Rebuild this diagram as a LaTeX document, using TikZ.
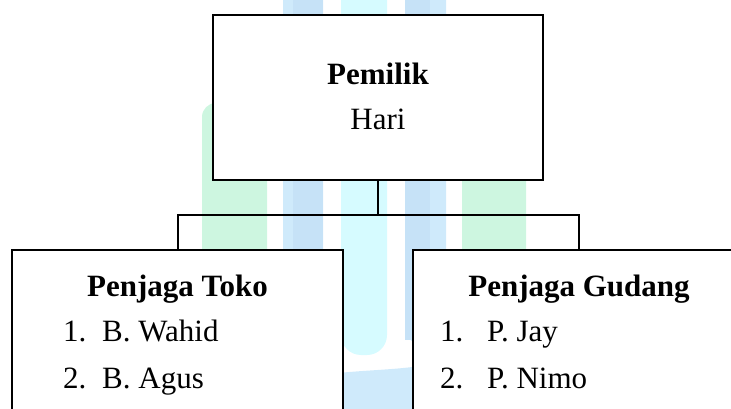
\documentclass[tikz,border=0pt]{standalone}
\usepackage{fontspec}
\setmainfont{Liberation Serif}
\definecolor{wmg}{HTML}{CDF6E0}
\definecolor{wmb}{HTML}{CFEAFB}
\definecolor{wmbd}{HTML}{C6E2F7}
\definecolor{wmc}{HTML}{D6FBFF}
\begin{document}
\begin{tikzpicture}[x=1pt,y=-1pt,
  box/.style={draw=black,line width=2pt,fill=white,rectangle,inner sep=0pt},
  conn/.style={draw=black,line width=2pt},
  ttl/.style={font=\fontsize{31}{37}\selectfont\bfseries,anchor=base,inner sep=0pt},
  txt/.style={font=\fontsize{31}{37}\selectfont,anchor=base,inner sep=0pt},
  itm/.style={font=\fontsize{31}{37}\selectfont,anchor=base west,inner sep=0pt},
  wmgreen/.style={fill=wmg,draw=none},
  wmblue/.style={fill=wmb,draw=none},
  wmcyan/.style={fill=wmc,draw=none}]
\useasboundingbox (0,0) rectangle (731,409);
\clip (0,0) rectangle (731,409);
% background watermark stripes
\fill[wmgreen,rounded corners=14pt] (202,103) rectangle (267,420);
\fill[wmgreen,rounded corners=14pt] (462,103) rectangle (526,420);
\fill[wmblue,rounded corners=18pt] (283,-20) rectangle (323,400);
\fill[wmbd] (293,0) rectangle (323,390);
\fill[wmblue,rounded corners=18pt] (405,-20) rectangle (446,345);
\fill[wmbd] (405,0) rectangle (430,340);
\fill[wmcyan,rounded corners=20pt] (341,-20) rectangle (387,355);
\fill[wmb] (300,378) .. controls (360,368) and (400,372) .. (440,362) -- (440,420) -- (300,420) -- cycle;
% boxes
\node[box,minimum width=330pt,minimum height=165pt] (top) at (378,97.5) {};
\node[box,minimum width=331pt,minimum height=180pt] (left) at (177.5,340) {};
\node[box,minimum width=331pt,minimum height=180pt] (right) at (578.5,340) {};
% connectors
\coordinate (bus) at (378,215);
\draw[conn] (top.south) -- (bus);
\draw[conn] (bus) -| (left.north);
\draw[conn] (bus) -| (right.north);
% texts
\node[ttl] (t1) at (378,85) {Pemilik};
\node[txt] (t2) at (378,130) {Hari};
\node[ttl] (l0) at (177.5,296.7) {Penjaga Toko};
\node[itm] (l1n) at (63,341.7) {1.};
\node[itm] (l1) at (102,341.7) {B. Wahid};
\node[itm] (l2n) at (63,388) {2.};
\node[itm] (l2) at (102,388) {B. Agus};
\node[ttl] (r0) at (579,296.7) {Penjaga Gudang};
\node[itm] (r1n) at (440,341.7) {1.};
\node[itm] (r1) at (487,341.7) {P. Jay};
\node[itm] (r2n) at (440,388) {2.};
\node[itm] (r2) at (487,388) {P. Nimo};
\end{tikzpicture}
\end{document}
